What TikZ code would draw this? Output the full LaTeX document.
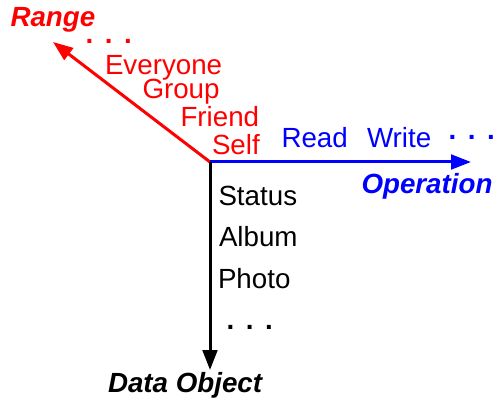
\documentclass[tikz,border=0pt]{standalone}
\usepackage{fontspec}
\setmainfont{Liberation Sans}
\usetikzlibrary{arrows.meta}

\definecolor{rangeRed}{RGB}{255,0,0}
\definecolor{opBlue}{RGB}{0,0,255}

\newcommand{\moredots}{\textbf{.\hspace{0.42em}.\hspace{0.42em}.}}

\tikzset{every picture/.style={line width=0.75pt}}
\tikzset{
  axis/.style={line width=2.25pt, -{Triangle[length=15pt,width=11pt]}},
  lbl/.style={anchor=base west, inner sep=0pt, font=\fontsize{20.8}{24}\selectfont},
  axislbl/.style={lbl, font=\fontsize{20.8}{24}\selectfont\bfseries\itshape}
}

\begin{document}
\begin{tikzpicture}[x=0.75pt,y=0.75pt,yscale=-1,xscale=1]
\useasboundingbox (0,0) rectangle (497,403);

%Axis ends
\coordinate (origin) at (210,162);
\coordinate (rangeEnd) at (53,42);
\coordinate (opEnd) at (471,162);
\coordinate (objEnd) at (210,370);

%Straight Lines
\draw [axis, rangeRed] (origin) -- (rangeEnd);
%Straight Lines
\draw [axis, opBlue] (origin) -- (opEnd);
%Straight Lines
\draw [axis, black] (origin) -- (objEnd);

% Text Node
\node [axislbl, rangeRed] (range) at (10,27) {Range};
\node [lbl, rangeRed] (rangeDots) at (85,44) {\moredots};
\node [lbl, rangeRed] (everyone) at (104.5,75) {Everyone};
\node [lbl, rangeRed] (group) at (142,98.5) {Group};
\node [lbl, rangeRed] (friend) at (180,127) {Friend};
\node [lbl, rangeRed] (self) at (211.5,155) {Self};

% Text Node
\node [lbl, opBlue] (read) at (281,147) {Read};
\node [lbl, opBlue] (write) at (366.5,147) {Write};
\node [lbl, opBlue] (opDots) at (448,140) {\moredots};
\node [axislbl, opBlue] (operation) at (361,194) {Operation};

% Text Node
\node [lbl] (status) at (218,205.5) {Status};
\node [lbl] (album) at (218.5,247) {Album};
\node [lbl] (photo) at (217.5,288) {Photo};
\node [lbl] (objDots) at (226,329) {\moredots};
\node [axislbl] (dataobject) at (107.5,392.5) {Data Object};

\end{tikzpicture}
\end{document}
